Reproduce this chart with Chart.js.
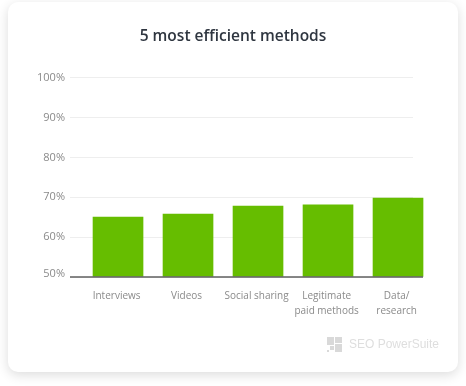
<!DOCTYPE html>
<html>
<head>
<meta charset="utf-8">
<title>5 most efficient methods</title>
<script src="https://cdn.jsdelivr.net/npm/chart.js@4"></script>
<style>
    html, body { margin: 0; background: #fff; }
    body { width: 466px; height: 386px; position: relative; overflow: hidden; }
    .card {
        position: absolute; left: 8px; top: 2px; width: 450px; height: 370px;
        background: #fff; border-radius: 10px;
        box-shadow: 0 3px 12px rgba(0, 0, 0, 0.14);
    }
    canvas { position: absolute; left: 0; top: 0; }
    .brand {
        position: absolute; left: 349px; top: 336px;
        font: 12px/17px "Liberation Sans", sans-serif; color: #dedede;
    }
    .logo { position: absolute; left: 327px; top: 337px; }
</style>
</head>
<body>
<div class="card"></div>
<canvas id="methodsChart" width="466" height="386"></canvas>
<svg class="logo" width="16" height="15" fill="#d9d9d9">
    <rect x="0" y="0" width="7" height="8"/>
    <rect x="8" y="0" width="7" height="6"/>
    <rect x="8" y="7" width="7" height="8"/>
    <rect x="3" y="9" width="4" height="4"/>
    <rect x="0" y="13" width="2" height="2"/>
</svg>
<div class="brand">SEO PowerSuite</div>
<script>
var categories = ['Interviews', 'Videos', 'Social sharing', ['Legitimate', 'paid methods'], ['Data/', 'research']];
var values = [65, 65.8, 67.8, 68.1, 69.8];
var yTicks = [50, 60, 70, 80, 90, 100];
// axis line runs a bit past the last bar, x in category units
var axisLineX = [-0.686, 4.357];
var axisLineY = [50, 50];

var fontFamily = '"Open Sans", sans-serif';

new Chart(document.getElementById('methodsChart').getContext('2d'), {
    type: 'bar',
    data: {
        datasets: [{
            type: 'line',
            data: axisLineX.map(function (x, i) { return {x: x, y: axisLineY[i]}; }),
            borderColor: '#5f5f5f',
            borderWidth: 1.5,
            pointRadius: 0,
            clip: false,
            order: 0
        }, {
            data: values.map(function (v, i) { return {x: i, y: v}; }),
            backgroundColor: '#66bd00',
            barThickness: 50,
            base: yTicks[0],
            clip: false,
            order: 1
        }]
    },
    options: {
        responsive: false,
        animation: false,
        plugins: {
            legend: {display: false},
            tooltip: {enabled: false},
            title: {
                display: true,
                text: '5 most efficient methods',
                color: '#2f3640',
                font: {family: fontFamily, size: 15.5, weight: '600'},
                padding: {top: 27, bottom: 32}
            }
        },
        scales: {
            x: {
                type: 'linear',
                offset: false,
                min: axisLineX[0],
                max: 4.214,
                afterBuildTicks: function (scale) {
                    // labels sit a touch left of the bar centres
                    scale.ticks = categories.map(function (c, i) { return {value: i - 0.02}; });
                },
                afterFit: function (scale) { scale.height = 109; },
                grid: {display: false, offset: false},
                border: {display: false},
                ticks: {
                    autoSkip: false,
                    maxRotation: 0,
                    padding: 4,
                    color: '#8a8a8a',
                    font: {family: fontFamily, size: 10, lineHeight: 1.5},
                    callback: function (value, index) { return categories[index]; }
                }
            },
            y: {
                min: yTicks[0],
                max: yTicks[yTicks.length - 1],
                afterFit: function (scale) { scale.width = 70; },
                grid: {color: '#eeeeee', drawTicks: false},
                border: {display: false},
                ticks: {
                    stepSize: 10,
                    padding: 5,
                    color: '#8a8a8a',
                    font: function (ctx) {
                        // bottom label sits slightly above the axis line
                        return {family: fontFamily, size: 11, lineHeight: ctx.index === 0 ? '6px' : 1.2};
                    },
                    callback: function (value) {
                        return value === yTicks[0] ? [value + '%', ''] : value + '%';
                    }
                }
            },
            // empty axis, only reserves the space right of the gridlines
            rightGap: {
                position: 'right',
                afterFit: function (scale) { scale.width = 53; },
                grid: {display: false},
                border: {display: false},
                ticks: {display: false}
            }
        }
    }
});
</script>
</body>
</html>
